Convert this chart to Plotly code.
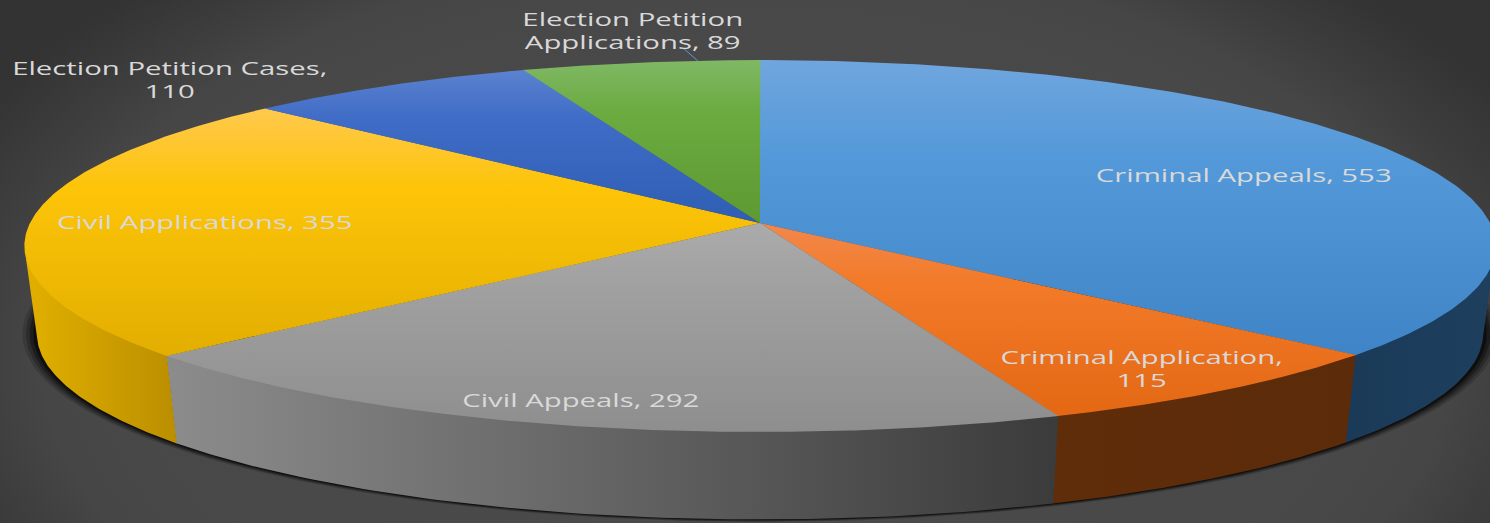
import numpy as np
import plotly.graph_objects as go

# Case counts per category, clockwise from twelve o'clock
categories = ["Criminal Appeals", "Criminal Application", "Civil Appeals",
              "Civil Applications", "Election Petition Cases",
              "Election Petition Applications"]
values = [553, 115, 292, 355, 110, 89]

# Label text, position and wrapping
label_text = ["Criminal Appeals, 553", "Criminal Application,<br>115", "Civil Appeals, 292",
              "Civil Applications, 355", "Election Petition Cases,<br>110",
              "Election Petition<br>Applications, 89"]
label_x = [1244, 1141, 581, 204, 169, 633]
label_y = [175, 368, 400, 222, 79, 30]

# Top-face vertical gradients: (light edge, base tone, dark edge)
top_colors = [("#70a6de", "#5499d9", "#3f84c6"), ("#f2884c", "#f27a28", "#e46814"),
              ("#ababab", "#a0a0a0", "#8e8e8e"), ("#ffc94e", "#fdc408", "#e2ae00"),
              ("#5c82d0", "#3f6cc6", "#2f5eb4"), ("#80b865", "#6bab40", "#5d9a32")]
# Side-wall horizontal gradients: (left, right)
side_colors = [("#1a3a58", "#1e3f5e"), ("#5f2d0a", "#5c2b09"), ("#8c8c8c", "#3b3b3b"),
               ("#e2b000", "#bb8e00")]
# Visible extent of each wall, in degrees clockwise from the top
side_spans = [(98, None), (None, None), (None, None), (None, 262)]

# Tilted-disc projection
CX, CY, RX, RY, PERSP = 760.0, 223.0, 730.0, 183.1, 0.1237
DEPTH, LOWER_SCALE = 87.5, 0.983
W, H = 1490, 523


def upper(deg):
    t = np.radians(deg)
    w = 1 + PERSP * np.cos(t)
    return CX + RX * np.sin(t) / w, CY - RY * np.cos(t) / w


def lower(deg):
    x, y = upper(deg)
    return CX + LOWER_SCALE * (x - CX), y + DEPTH


def polygon(fig, xs, ys, grad_type, stops, start, stop):
    scale = [[k / (len(stops) - 1), c] for k, c in enumerate(stops)]
    if grad_type == "vertical" and len(stops) == 3:
        scale[1][0] = 0.32
    fig.add_trace(go.Scatter(
        x=list(xs), y=list(ys), mode="lines", line=dict(width=0), fill="toself",
        fillgradient=dict(type=grad_type, colorscale=scale, start=start, stop=stop),
        hoverinfo="skip", showlegend=False))


fig = go.Figure()

# Backdrop: soft radial vignette
fig.add_trace(go.Scatter(
    x=[-135, 1625, 1625, -135, -135], y=[-145, -145, 845, 845, -145], mode="lines",
    line=dict(width=0), fill="toself",
    fillgradient=dict(type="radial", colorscale=[[0, "#4c4c4c"], [0.72, "#484848"], [0.8, "#464646"],
                                                 [0.88, "#3e3e3e"], [1, "#333333"]]),
    hoverinfo="skip", showlegend=False))

# Cumulative slice boundaries in degrees
edges = np.concatenate([[0], np.cumsum(values)]) / sum(values) * 360

# Drop shadow hugging the lower rim
rim = np.linspace(80, 280, 200)
for grow_x, grow_y, alpha in [(1.02, 1.012, 0.16), (1.015, 1.009, 0.22), (1.01, 1.006, 0.32), (1.005, 1.003, 0.5)]:
    lx, ly = lower(rim)
    sx = CX + (lx - CX) * grow_x
    sy = CY + DEPTH + (ly - CY - DEPTH) * grow_y
    fig.add_trace(go.Scatter(x=sx, y=sy, mode="lines", line=dict(width=0), fill="toself",
                             fillcolor=f"rgba(0,0,0,{alpha})", hoverinfo="skip", showlegend=False))

# Side walls of the slices that face the viewer; each tucks slightly under its neighbours
OVERLAP = 0.03
for i, colors in enumerate(side_colors):
    a = side_spans[i][0] if side_spans[i][0] is not None else edges[i] - OVERLAP
    b = side_spans[i][1] if side_spans[i][1] is not None else edges[i + 1] + OVERLAP
    arc = np.linspace(a, b, 90)
    ux, uy = upper(arc)
    bx, by = lower(arc)
    xs = np.concatenate([ux, bx[::-1]])
    ys = np.concatenate([uy - 1.5, by[::-1]])
    polygon(fig, xs, ys, "horizontal", colors, xs.min(), xs.max())

# Top faces of every slice
for i, colors in enumerate(top_colors):
    arc = np.linspace(edges[i] - OVERLAP, edges[i + 1] + OVERLAP, 200)
    ux, uy = upper(arc)
    xs = np.concatenate([[CX], ux, [CX]])
    ys = np.concatenate([[CY], uy, [CY]])
    polygon(fig, xs, ys, "vertical", colors, ys.min(), ys.max())

# Leader line for the smallest slice label
lead_x, lead_y = upper(354.5)
fig.add_trace(go.Scatter(x=[lead_x, lead_x - 15], y=[lead_y, lead_y - 13], mode="lines",
                         line=dict(color="#5b9bd5", width=1), hoverinfo="skip", showlegend=False))

for txt, x, y in zip(label_text, label_x, label_y):
    fig.add_annotation(x=x, y=y, text=txt, showarrow=False, xanchor="center", yanchor="middle",
                       font=dict(family="Open Sans", size=18, color="#d9d9d9"))

fig.update_layout(
    width=W, height=H, margin=dict(l=0, r=0, t=0, b=0),
    paper_bgcolor="#404040", plot_bgcolor="#404040", showlegend=False,
    xaxis=dict(range=[0, W], visible=False, fixedrange=True),
    yaxis=dict(range=[H, 0], visible=False, fixedrange=True),
)

# Widen the data labels horizontally about their own centres
stretch_js = """
document.querySelectorAll('.annotation-text').forEach(function (t) {
  var b = t.getBBox();
  var c = b.x + b.width / 2;
  var s = 1.63;
  t.setAttribute('transform', 'translate(' + (c * (1 - s)) + ',0) scale(' + s + ',1)');
});
"""
fig.write_html("out.html", post_script=stretch_js, config={"displayModeBar": False})
